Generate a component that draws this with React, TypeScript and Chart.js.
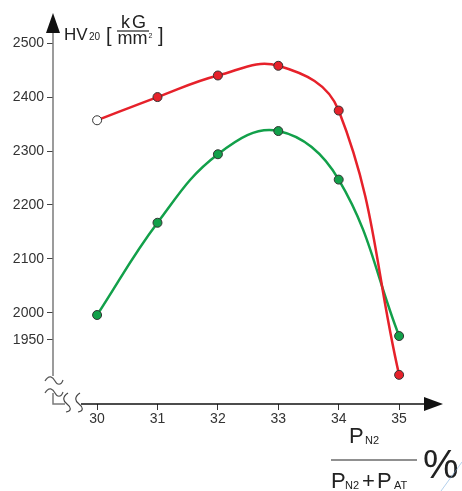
import React, { useEffect, useRef } from "react";
import { Chart, registerables } from "chart.js";

Chart.register(...registerables);

const xValues = [30, 31, 32, 33, 34, 35];
const redSeries = [2357, 2400, 2440, 2458, 2375, 1885];
const greenSeries = [1996, 2167, 2294, 2337, 2247, 1957];
const xTicks = [30, 31, 32, 33, 34, 35];
const yTicks = [1950, 2000, 2100, 2200, 2300, 2400, 2500];

const FONT = "'Liberation Sans', Arial, Helvetica, sans-serif";
const RED = "#e6212a";
const GREEN = "#12a04a";

const decorPlugin = {
  id: "decor",
  afterDraw(chart: any) {
    const ctx = chart.ctx as CanvasRenderingContext2D;
    const a = chart.chartArea;
    const L = a.left;
    const B = a.bottom;
    const T = a.top;
    const R = a.right;
    ctx.save();
    // y axis line (gray)
    ctx.strokeStyle = "#7a7a7a";
    ctx.lineWidth = 1.5;
    ctx.beginPath();
    ctx.moveTo(L, T + 14);
    ctx.lineTo(L, B - 28);
    ctx.stroke();
    // y arrow
    ctx.fillStyle = "#111";
    ctx.beginPath();
    ctx.moveTo(L, T - 1);
    ctx.lineTo(L - 7, T + 19);
    ctx.lineTo(L + 7, T + 19);
    ctx.closePath();
    ctx.fill();

    // break waves on y axis
    ctx.strokeStyle = "#555";
    ctx.lineWidth = 1.2;
    const wave = (x0: number, y0: number) => {
      ctx.beginPath();
      ctx.moveTo(x0, y0 + 2);
      ctx.bezierCurveTo(x0 + 4, y0 - 5, x0 + 8, y0 - 2, x0 + 10, y0 + 2);
      ctx.bezierCurveTo(x0 + 12, y0 + 6, x0 + 16, y0 + 7, x0 + 18, y0 + 1);
      ctx.stroke();
    };
    wave(L - 8, B - 25);
    wave(L - 8, B - 13);
    // lower short segment of y axis
    ctx.strokeStyle = "#7a7a7a";
    ctx.lineWidth = 1.5;
    ctx.beginPath();
    ctx.moveTo(L, B - 11);
    ctx.lineTo(L, B);
    ctx.lineTo(L + 12, B);
    ctx.stroke();
    // S-shaped breaks on x axis
    ctx.strokeStyle = "#444";
    ctx.lineWidth = 1.2;
    const sBreak = (x0: number) => {
      ctx.beginPath();
      ctx.moveTo(x0 + 3, B - 11);
      ctx.bezierCurveTo(x0 - 3, B - 7, x0 - 2, B - 3, x0 + 2, B);
      ctx.bezierCurveTo(x0 + 6, B + 3, x0 + 7, B + 7, x0 + 1, B + 8);
      ctx.stroke();
    };
    sBreak(L + 12);
    sBreak(L + 24);
    // x axis line (black)
    ctx.strokeStyle = "#111";
    ctx.lineWidth = 1.5;
    ctx.beginPath();
    ctx.moveTo(L + 28, B);
    ctx.lineTo(R - 10, B);
    ctx.stroke();
    // x arrow
    ctx.fillStyle = "#111";
    ctx.beginPath();
    ctx.moveTo(R + 1, B);
    ctx.lineTo(R - 18, B - 7);
    ctx.lineTo(R - 18, B + 7);
    ctx.closePath();
    ctx.fill();

    // Y title: HV20 [kG / mm2]
    ctx.fillStyle = "#222";
    ctx.textBaseline = "alphabetic";
    ctx.textAlign = "left";
    ctx.font = `17px ${FONT}`;
    ctx.fillText("HV", 64, 40);
    ctx.font = `10px ${FONT}`;
    ctx.fillText("20", 89, 40);
    ctx.font = `20px ${FONT}`;
    ctx.fillText("[", 106, 42);
    ctx.fillText("]", 158, 42);
    ctx.font = `18px ${FONT}`;
    ctx.textAlign = "center";
    (ctx as any).letterSpacing = "2px";
    ctx.fillText("kG", 134.5, 28);
    (ctx as any).letterSpacing = "0px";
    ctx.fillText("mm", 132.5, 44);
    ctx.font = `7px ${FONT}`;
    ctx.textAlign = "left";
    ctx.fillText("2", 148.5, 38);
    ctx.strokeStyle = "#222";
    ctx.lineWidth = 1.2;
    ctx.beginPath();
    ctx.moveTo(117, 31);
    ctx.lineTo(149, 31);
    ctx.stroke();

    // X title: P_N2 / (P_N2 + P_AT) %
    ctx.font = `22px ${FONT}`;
    ctx.textAlign = "left";
    ctx.fillText("P", 349, 443);
    ctx.font = `11px ${FONT}`;
    ctx.fillText("N2", 365, 444);
    ctx.beginPath();
    ctx.moveTo(331, 460);
    ctx.lineTo(417, 460);
    ctx.stroke();
    ctx.font = `22px ${FONT}`;
    ctx.fillText("P", 331, 488);
    ctx.fillText("+", 362, 488);
    ctx.fillText("P", 377, 488);
    ctx.font = `11px ${FONT}`;
    ctx.fillText("N2", 345, 489);
    ctx.fillText("AT", 394, 489);
    ctx.font = `40px ${FONT}`;
    ctx.fillText("%", 423, 478);

    // faint artifact line bottom right
    ctx.strokeStyle = "rgba(120,170,220,0.7)";
    ctx.lineWidth = 0.8;
    ctx.beginPath();
    ctx.moveTo(462, 462);
    ctx.lineTo(441, 491);
    ctx.stroke();
    ctx.restore();
  },
};

export default function App() {
  const ref = useRef<HTMLCanvasElement | null>(null);
  useEffect(() => {
    if (!ref.current) return;
    const chart = new Chart(ref.current, {
      type: "line",
      data: {
        datasets: [
          {
            label: "red",
            data: xValues.map((x, i) => ({ x, y: redSeries[i] })),
            borderColor: RED,
            borderWidth: 2.5,
            tension: 0.4,
            pointRadius: 4.5,
            pointBorderWidth: 1,
            pointBorderColor: "#333",
            pointBackgroundColor: redSeries.map((_, i) => (i === 0 ? "#ffffff" : RED)),
          },
          {
            label: "green",
            data: xValues.map((x, i) => ({ x, y: greenSeries[i] })),
            borderColor: GREEN,
            borderWidth: 2.5,
            tension: 0.4,
            pointRadius: 4.5,
            pointBorderWidth: 1,
            pointBorderColor: "#333",
            pointBackgroundColor: GREEN,
          },
        ],
      },
      options: {
        responsive: false,
        animation: false,
        layout: { padding: { left: 8, top: 14, right: 20, bottom: 67 } },
        plugins: { legend: { display: false }, tooltip: { enabled: false } },
        scales: {
          x: {
            type: "linear",
            min: 29.27,
            max: 35.71,
            afterBuildTicks: (s: any) => {
              s.ticks = xTicks.map((v) => ({ value: v }));
            },
            afterFit: (s: any) => {
              s.height = 20;
            },
            grid: { drawOnChartArea: false, drawTicks: true, tickLength: 6, color: "#333", lineWidth: 1 },
            border: { display: false },
            ticks: {
              font: { family: FONT, size: 14 },
              color: "#333",
              padding: 1,
              autoSkip: false,
              maxRotation: 0,
              callback: (v: any) => String(v),
            },
          },
          y: {
            type: "linear",
            min: 1831,
            max: 2554,
            afterBuildTicks: (s: any) => {
              s.ticks = yTicks.map((v) => ({ value: v }));
            },
            afterFit: (s: any) => {
              s.width = 45;
            },
            grid: { drawOnChartArea: false, drawTicks: true, tickLength: 6, color: "#444", lineWidth: 1 },
            border: { display: false },
            ticks: {
              font: { family: FONT, size: 14 },
              color: "#333",
              padding: 3,
              autoSkip: false,
              callback: (v: any) => String(v),
            },
          },
        },
      },
      plugins: [decorPlugin],
    });
    return () => chart.destroy();
  }, []);
  return (
    <div style={{ position: "absolute", left: 0, top: 0, width: 462, height: 491, background: "#fff" }}>
      <canvas ref={ref} width={462} height={491} style={{ display: "block" }} />
    </div>
  );
}
